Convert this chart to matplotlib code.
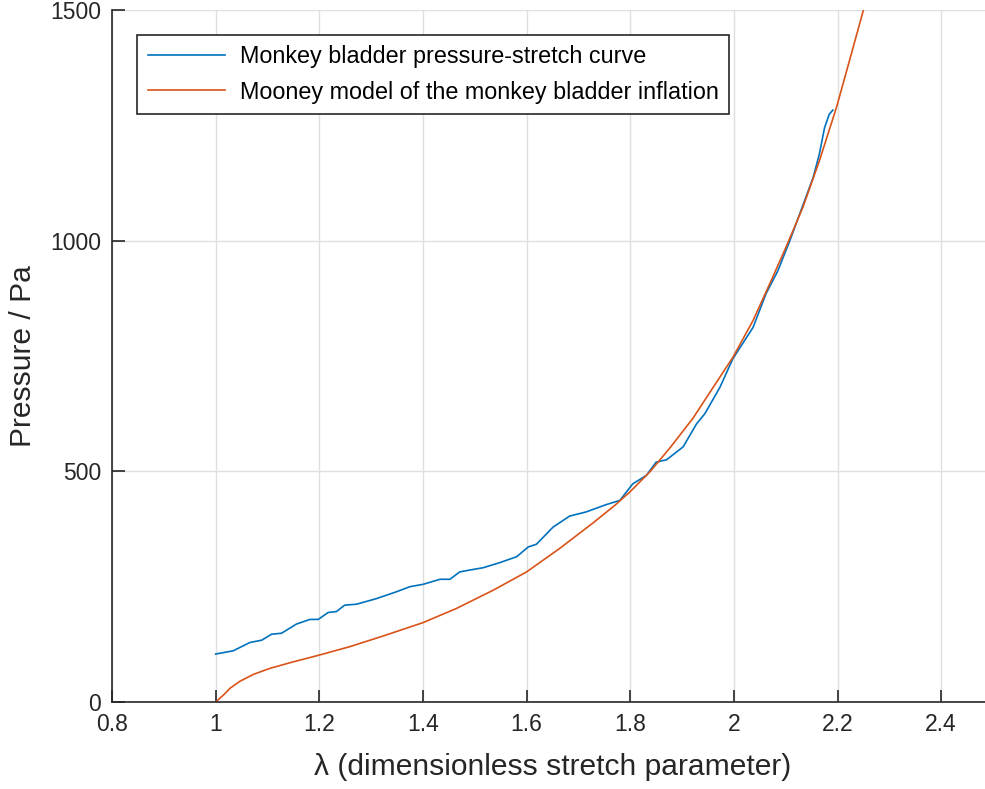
import matplotlib
matplotlib.use("Agg")
import matplotlib.pyplot as plt

# Measured bladder inflation: stretch ratio vs pressure (Pa)
stretch_measured = [1.000, 1.034, 1.066, 1.089, 1.108, 1.127, 1.156, 1.182, 1.198,
                    1.217, 1.233, 1.249, 1.272, 1.310, 1.349, 1.375, 1.400, 1.433,
                    1.452, 1.471, 1.490, 1.516, 1.548, 1.581, 1.603, 1.619, 1.651,
                    1.683, 1.715, 1.732, 1.754, 1.780, 1.805, 1.831, 1.850, 1.870,
                    1.902, 1.928, 1.944, 1.973, 1.998, 2.037, 2.062, 2.085, 2.108,
                    2.127, 2.153, 2.165, 2.175, 2.184, 2.191]
pressure_measured = [104, 111, 129, 134, 147, 149, 169, 179, 179,
                     194, 196, 210, 212, 224, 239, 250, 255, 266,
                     266, 282, 286, 291, 302, 315, 336, 342, 379,
                     403, 412, 419, 428, 437, 473, 491, 520, 525,
                     553, 603, 625, 682, 744, 812, 885, 935, 1000,
                     1058, 1137, 1188, 1245, 1274, 1283]

# Mooney model fit of the same inflation
stretch_model = [1.000, 1.015, 1.028, 1.047, 1.073, 1.105, 1.143, 1.201, 1.259,
                 1.323, 1.400, 1.465, 1.535, 1.600, 1.664, 1.728, 1.770, 1.799,
                 1.838, 1.876, 1.921, 1.960, 1.998, 2.037, 2.069, 2.101, 2.133,
                 2.165, 2.198, 2.223, 2.249, 2.262]
pressure_model = [0, 15, 30, 45, 60, 73, 85, 102, 120,
                  143, 172, 203, 242, 282, 333, 388, 426, 455,
                  499, 550, 615, 682, 747, 827, 906, 987, 1072,
                  1173, 1289, 1390, 1496, 1545]

x_ticks = [0.8, 1.0, 1.2, 1.4, 1.6, 1.8, 2.0, 2.2, 2.4]
x_tick_labels = ["0.8", "1", "1.2", "1.4", "1.6", "1.8", "2", "2.2", "2.4"]
y_ticks = [0, 500, 1000, 1500]

plt.rcParams["font.family"] = ["Liberation Sans", "DejaVu Sans"]
axis_color = "#262626"

fig = plt.figure(figsize=(9.85, 7.89), dpi=100)
ax = fig.add_axes([112 / 985, 87 / 789, 881 / 985, 692 / 789])

ax.plot(stretch_measured, pressure_measured, color="#0072BD", lw=1.2,
        label="Monkey bladder pressure-stretch curve")
ax.plot(stretch_model, pressure_model, color="#D95319", lw=1.2,
        label="Mooney model of the monkey bladder inflation")

ax.set_xlim(0.8, 2.5)
ax.set_ylim(0, 1500)
ax.set_xticks(x_ticks)
ax.set_xticklabels(x_tick_labels)
ax.set_yticks(y_ticks)

ax.grid(True, color="#dfdfdf", lw=1.0)
ax.set_axisbelow(True)
for side in ("top", "right"):
    ax.spines[side].set_visible(False)
for side in ("left", "bottom"):
    ax.spines[side].set_color(axis_color)
    ax.spines[side].set_linewidth(1.2)

ax.tick_params(direction="in", length=9, width=1.2, colors=axis_color,
               labelsize=16.5, pad=8)

ax.set_xlabel("λ (dimensionless stretch parameter)", fontsize=21.6,
              color=axis_color, labelpad=12)
ax.set_ylabel("Pressure / Pa", fontsize=21.6, color=axis_color, labelpad=9)

leg = ax.legend(loc="upper left", bbox_to_anchor=(25 / 881, 667 / 692),
                borderaxespad=0, fontsize=16.8, handlelength=3.3,
                handletextpad=0.65, borderpad=0.45, labelspacing=0.52,
                fancybox=False, framealpha=1, edgecolor=axis_color)
leg.get_frame().set_linewidth(1.2)
for t in leg.get_texts():
    t.set_color("#000000")

fig.savefig("out.png", dpi=100)
